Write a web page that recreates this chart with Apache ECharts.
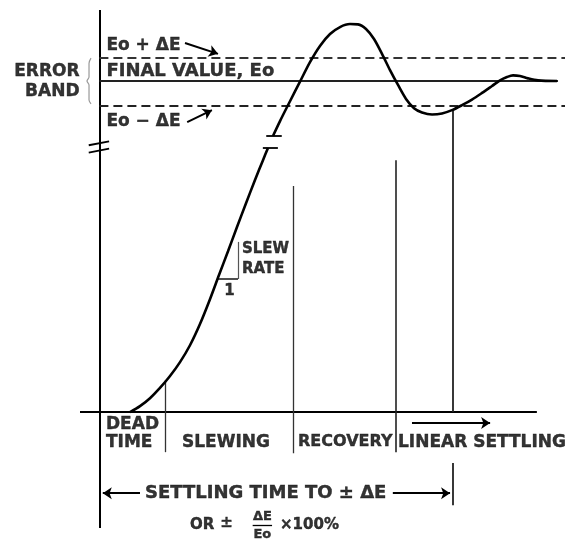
<!DOCTYPE html>
<html>
<head>
<meta charset="utf-8">
<script src="https://cdn.jsdelivr.net/npm/echarts@6/dist/echarts.min.js"></script>
<style>html,body{margin:0;padding:0;background:#fff}#c{width:573px;height:545px}</style>
</head>
<body>
<div id="c"></div>
<script>
// ---- data (time in arbitrary units, output normalised so final value Eo = 1) ----
const riseTime   = [6.31, 8.37, 10.43, 12.49, 14.56, 16.62, 18.68, 20.74, 22.80, 24.66, 26.52, 28.37, 30.23, 32.08, 33.73, 34.76];
const riseValue  = [0.000, 0.018, 0.042, 0.073, 0.109, 0.151, 0.202, 0.266, 0.341, 0.414, 0.486, 0.559, 0.631, 0.701, 0.761, 0.798];
const settleTime  = [35.79, 37.24, 39.30, 41.36, 43.42, 45.48, 47.55, 49.61, 51.67, 53.32, 54.97, 56.62, 58.27, 59.92, 61.57, 63.22, 64.87, 66.52, 68.58, 70.64, 72.70, 74.76, 76.82, 78.89, 80.95, 82.60, 84.04, 85.28, 86.72, 88.37, 90.43, 94.35];
const settleValue = [0.834, 0.879, 0.939, 0.998, 1.057, 1.106, 1.142, 1.163, 1.172, 1.171, 1.157, 1.127, 1.082, 1.033, 0.988, 0.946, 0.918, 0.905, 0.899, 0.902, 0.912, 0.927, 0.944, 0.964, 0.985, 1.002, 1.012, 1.017, 1.015, 1.008, 1.002, 1.000];
const finalValue = 1.0;
const bandHigh = 1.07;
const bandLow = 0.925;
const phaseBounds = [13.53, 39.9, 61.15];      // dead time | slewing | recovery | linear
const phaseTops = [0.097, 0.683, 0.761];
const settlePoint = 72.91;
const topLabels = ['Eo + ΔE', 'FINAL VALUE, Eo', 'Eo − ΔE'];
const bandLabels = ['ERROR', 'BAND'];
const phaseLabels = ['DEAD', 'TIME', 'SLEWING', 'RECOVERY', 'LINEAR SETTLING'];
const slewLabels = ['SLEW', 'RATE', '1'];
const settleLabels = ['SETTLING TIME TO ± ΔE', 'OR', '±', 'ΔE', 'Eo', '×100%'];

const X_MIN = -4, X_MAX = 96, Y_MIN = -0.35, Y_MAX = 1.2145;
const FONT = 'DejaVu Sans';
const INK = '#000';

const rise = riseTime.map((t, i) => [t, riseValue[i]]);
const settle = settleTime.map((t, i) => [t, settleValue[i]]);

function seg(a, b, style) { return { coords: [a, b], lineStyle: style || {} }; }
const thin = { width: 1.3, color: '#333' };

const segments = [
  seg([0, Y_MAX], [0, Y_MIN], { width: 2, color: INK }),            // y axis
  seg([X_MIN, 0], [90.2, 0], { width: 2, color: INK }),             // baseline
  seg([0, finalValue], [94.56, finalValue], { width: 1.8, color: '#222' }),
  seg([0, bandHigh], [96, bandHigh], { width: 2, color: '#333', type: [9, 5] }),
  seg([0, bandLow], [96, bandLow], { width: 2.2, color: '#222', type: [9, 5] }),
  seg([phaseBounds[0], phaseTops[0]], [phaseBounds[0], -0.121], thin),
  seg([phaseBounds[1], phaseTops[1]], [phaseBounds[1], -0.124], thin),
  seg([phaseBounds[2], phaseTops[2]], [phaseBounds[2], -0.121], { width: 1.6, color: '#222' }),
  seg([settlePoint, 0.912], [settlePoint, 0], { width: 1.8, color: '#222' }),
  seg([settlePoint, -0.154], [settlePoint, -0.281], { width: 1.8, color: '#222' }),
  // slew-rate triangle
  seg([24.45, 0.402], [28.58, 0.402], { width: 1.6, color: '#222' }),
  seg([28.58, 0.514], [28.58, 0.402], { width: 1.2, color: '#555' }),
  // break ticks on curve
  seg([33.7, 0.798], [36.8, 0.798], { width: 1.8, color: INK }),
  seg([34.4, 0.836], [37.6, 0.836], { width: 1.8, color: INK }),
  // break on y axis
  seg([-2.2, 0.806], [2.0, 0.818], { width: 1.8, color: INK }),
  seg([-2.2, 0.784], [2.0, 0.796], { width: 1.8, color: INK }),
  // fraction bar
  seg([31.6, -0.341], [35.6, -0.341], { width: 1.3, color: INK })
];

const arrows = [
  seg([17.65, 1.115], [24.45, 1.082]),
  seg([18.1, 0.876], [23.2, 0.912]),
  seg([64.45, -0.033], [80.56, -0.033]),
  seg([8.37, -0.245], [0.7, -0.245]),
  seg([60.5, -0.245], [72.3, -0.245])
];

function txt(x, y, text, opts) {
  return { value: [x, y], label: Object.assign({ formatter: text }, opts || {}) };
}
const L = { align: 'left' }, R = { align: 'right' }, C = { align: 'center' };
const texts = [
  txt(1.44, 1.106, topLabels[0], L),
  txt(1.44, 1.030, topLabels[1], Object.assign({ fontSize: 18 }, L)),
  txt(1.44, 0.879, topLabels[2], L),
  txt(-4.1, 1.030, bandLabels[0], R),
  txt(-4.1, 0.967, bandLabels[1], R),
  txt(1.36, -0.039, phaseLabels[0], L),
  txt(1.36, -0.091, phaseLabels[1], L),
  txt(17.03, -0.091, phaseLabels[2], L),
  txt(40.95, -0.091, phaseLabels[3], Object.assign({ fontSize: 16 }, L)),
  txt(61.57, -0.091, phaseLabels[4], L),
  txt(29.4, 0.492, slewLabels[0], Object.assign({ fontSize: 15 }, L)),
  txt(29.4, 0.432, slewLabels[1], Object.assign({ fontSize: 15 }, L)),
  txt(26.8, 0.366, slewLabels[2], Object.assign({ fontSize: 15 }, C)),
  txt(9.4, -0.245, settleLabels[0], Object.assign({ fontSize: 18 }, L)),
  txt(18.68, -0.341, settleLabels[1], Object.assign({ fontSize: 15 }, L)),
  txt(26.2, -0.336, settleLabels[2], Object.assign({ fontSize: 15 }, C)),
  txt(33.6, -0.316, settleLabels[3], Object.assign({ fontSize: 13 }, C)),
  txt(33.6, -0.371, settleLabels[4], Object.assign({ fontSize: 13 }, C)),
  txt(37.24, -0.341, settleLabels[5], Object.assign({ fontSize: 15 }, L))
];

const brace = [[-1.73, 1.069], [-2.14, 1.054], [-2.14, 1.012], [-2.56, 1.0], [-2.14, 0.988], [-2.14, 0.943], [-1.73, 0.931]];

const chart = echarts.init(document.getElementById('c'), null, { renderer: 'canvas' });
chart.setOption({
  animation: false,
  backgroundColor: '#fff',
  grid: { left: 80, right: 8, top: 10, bottom: 17 },
  xAxis: { type: 'value', min: X_MIN, max: X_MAX, show: false },
  yAxis: { type: 'value', min: Y_MIN, max: Y_MAX, show: false },
  series: [
    { type: 'lines', coordinateSystem: 'cartesian2d', clip: false, symbol: 'none', data: segments, lineStyle: { color: INK, width: 1.5, opacity: 1, curveness: 0 } },
    { type: 'lines', coordinateSystem: 'cartesian2d', clip: false, symbol: ['none', 'arrow'], symbolSize: [0, 9], data: arrows, lineStyle: { color: INK, width: 2, opacity: 1, curveness: 0 } },
    { type: 'line', data: rise, smooth: 0.3, showSymbol: false, clip: false, lineStyle: { color: INK, width: 2.6 } },
    { type: 'line', data: settle, smooth: 0.3, showSymbol: false, clip: false, lineStyle: { color: INK, width: 2.6 } },
    { type: 'line', data: brace, smooth: 0.3, showSymbol: false, clip: false, lineStyle: { color: '#999', width: 1.2 } },
    { type: 'scatter', data: texts, symbolSize: 0, clip: false, silent: true,
      label: { show: true, position: 'inside', verticalAlign: 'middle', color: INK, fontFamily: FONT, fontWeight: 'bold', fontSize: 17, textBorderColor: INK, textBorderWidth: 0.4 } }
  ]
});
</script>
</body>
</html>
